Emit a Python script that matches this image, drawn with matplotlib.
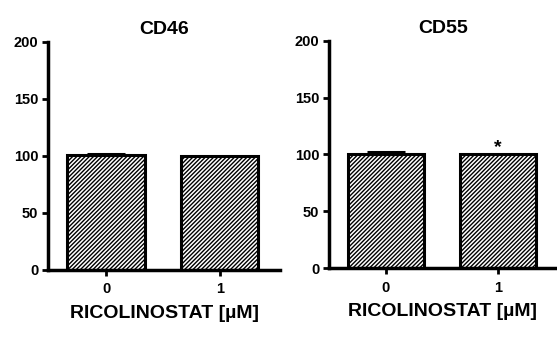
import matplotlib
matplotlib.use("Agg")
import matplotlib.pyplot as plt
import numpy as np

plt.rcParams['font.family'] = ['Liberation Sans', 'DejaVu Sans']
plt.rcParams['font.weight'] = 'bold'
plt.rcParams['hatch.linewidth'] = 1.0

categories = ["0", "1"]
titles = ["CD46", "CD55"]
cd46_values = [100.8, 100.0]
cd46_err = [1.2, 0.0]
cd55_values = [100.8, 100.0]
cd55_err = [1.2, 0.0]
cd55_sig = ["", "*"]
xlabel = "RICOLINOSTAT [\u00b5M]"
yticks = [0, 50, 100, 150, 200]

fig = plt.figure(figsize=(5.57, 3.38), dpi=100)
positions = [[0.0862, 0.2012, 0.4165, 0.6746], [0.5907, 0.2071, 0.409, 0.6716]]
datasets = [(cd46_values, cd46_err, ["", ""]), (cd55_values, cd55_err, cd55_sig)]

for pos, title, (vals, errs, sig) in zip(positions, titles, datasets):
    ax = fig.add_axes(pos)
    x = np.arange(len(categories))
    ax.bar(x, vals, width=0.68, color='white', edgecolor='black', linewidth=2.2,
           hatch='////////', zorder=2)
    for xi, v, e in zip(x, vals, errs):
        if e > 0:
            ax.errorbar([xi], [v], yerr=[[0], [e]], fmt='none', ecolor='black',
                        elinewidth=2, capsize=13.7, capthick=2.2, zorder=3)
    for xi, v, e, s in zip(x, vals, errs, sig):
        if s:
            ax.text(xi, v + e - 1, s, ha='center', va='bottom', fontsize=14, fontweight='bold')
    ax.set_xlim(-0.51, 1.53)
    ax.set_ylim(0, 200)
    ax.set_yticks(yticks)
    ax.set_xticks(x)
    ax.set_xticklabels(categories)
    ax.spines['top'].set_visible(False)
    ax.spines['right'].set_visible(False)
    ax.spines['left'].set_linewidth(2.5)
    ax.spines['bottom'].set_linewidth(2.5)
    ax.tick_params(axis='both', width=2, length=4, labelsize=10.5)
    ax.tick_params(axis='x', pad=5)
    ax.tick_params(axis='y', pad=3)
    for lab in ax.get_xticklabels() + ax.get_yticklabels():
        lab.set_fontweight('bold')
    ax.set_title(title, fontsize=14, fontweight='bold', pad=6)
    ax.set_xlabel(xlabel, fontsize=14, fontweight='bold', labelpad=6)

fig.savefig("out.png", dpi=100)
